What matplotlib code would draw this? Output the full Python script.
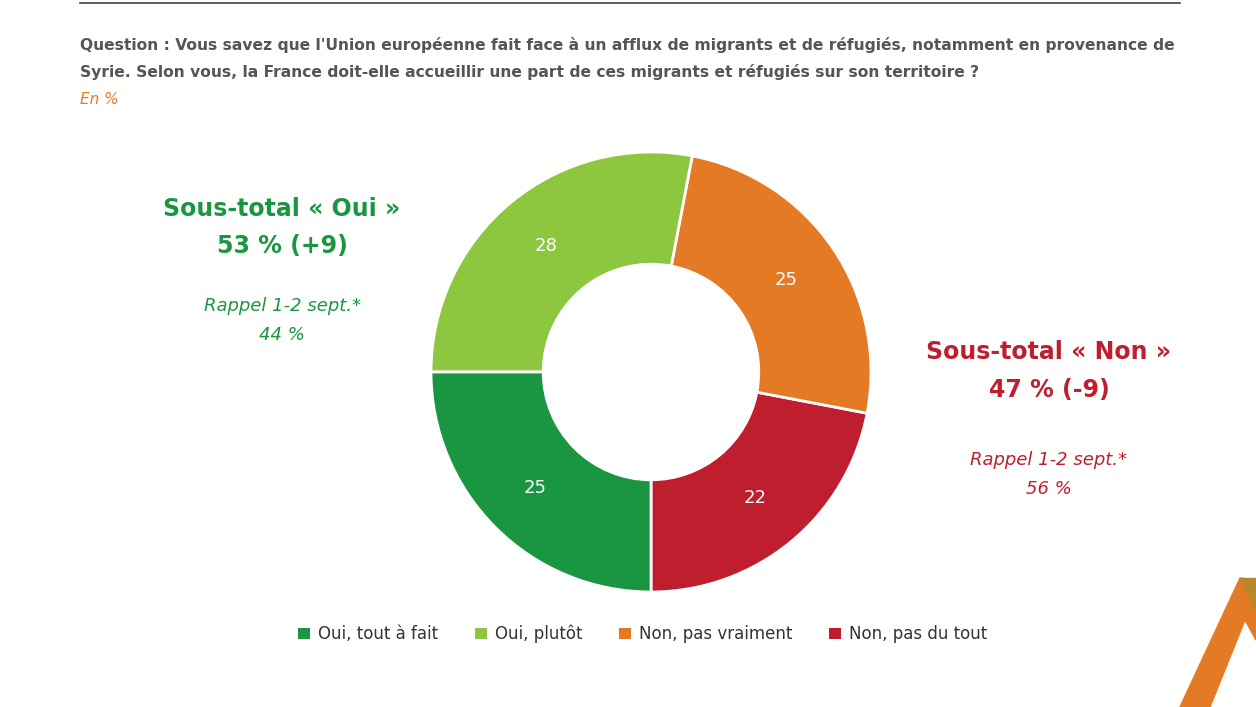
import matplotlib.pyplot as plt
from matplotlib.patches import Patch
import numpy as np

labels = ["Non, pas du tout", "Non, pas vraiment", "Oui, plutôt", "Oui, tout à fait"]
values = [22, 25, 28, 25]
colors = ["#BE1E2D", "#E57A25", "#8DC63F", "#1A9641"]
legend_order = [3, 2, 1, 0]

W, H = 1256, 707
fig = plt.figure(figsize=(W/100, H/100), dpi=100)
fig.patch.set_facecolor("white")

r = 220
ax = fig.add_axes([(651-r)/W, 1-(372+r)/H, 2*r/W, 2*r/H])
wedges, _ = ax.pie(values, colors=colors, startangle=-90, counterclock=True,
                   radius=1, wedgeprops=dict(width=0.51, edgecolor="white", linewidth=2))
ang = -90
for v in values:
    mid = np.deg2rad(ang + v*3.6/2)
    ax.text(0.745*np.cos(mid), 0.745*np.sin(mid), str(v), ha="center", va="center",
            color="white", fontsize=13)
    ang += v*3.6
ax.set_xlim(-1, 1); ax.set_ylim(-1, 1); ax.set_aspect("equal"); ax.axis("off")

def T(x, y, s, **kw):
    fig.text(x/W, 1-y/H, s, **kw)

fig.add_artist(plt.Line2D([80/W, 1180/W], [1-3/H, 1-3/H], color="#444444", lw=1.2))
T(80, 45, "Question : Vous savez que l'Union européenne fait face à un afflux de migrants et de réfugiés, notamment en provenance de",
  fontsize=11.2, fontweight="bold", color="#555555", va="center")
T(80, 72, "Syrie. Selon vous, la France doit-elle accueillir une part de ces migrants et réfugiés sur son territoire ?",
  fontsize=11.2, fontweight="bold", color="#555555", va="center")
T(80, 100, "En %", fontsize=11, style="italic", color="#E57A25", va="center")

g = "#1A9641"; rd = "#BE1E2D"
T(282, 209, "Sous-total « Oui »", fontsize=17, fontweight="bold", color=g, ha="center", va="center")
T(282, 246, "53 % (+9)", fontsize=17, fontweight="bold", color=g, ha="center", va="center")
T(282, 306, "Rappel 1-2 sept.*", fontsize=13, style="italic", color=g, ha="center", va="center")
T(282, 335, "44 %", fontsize=13, style="italic", color=g, ha="center", va="center")
T(1049, 352, "Sous-total « Non »", fontsize=17, fontweight="bold", color=rd, ha="center", va="center")
T(1049, 390, "47 % (-9)", fontsize=17, fontweight="bold", color=rd, ha="center", va="center")
T(1049, 460, "Rappel 1-2 sept.*", fontsize=13, style="italic", color=rd, ha="center", va="center")
T(1049, 489, "56 %", fontsize=13, style="italic", color=rd, ha="center", va="center")

handles = [Patch(facecolor=colors[i], label=labels[i]) for i in legend_order]
fig.legend(handles=handles, loc="center", bbox_to_anchor=(643/W, 1-634/H), ncol=4,
           frameon=False, fontsize=12, handlelength=0.7, handleheight=0.7,
           columnspacing=2.2, handletextpad=0.5, labelcolor="#333333")

def P(pts, c):
    fig.add_artist(plt.Polygon([[x/W, 1-y/H] for x, y in pts], closed=True, color=c,
                               transform=fig.transFigure))
P([(1180, 707), (1210, 707), (1245, 620), (1256, 640), (1256, 580), (1240, 578)], "#E57A25")
P([(1240, 578), (1256, 578), (1256, 610)], "#B8862B")
fig.savefig("out.png", dpi=100)
